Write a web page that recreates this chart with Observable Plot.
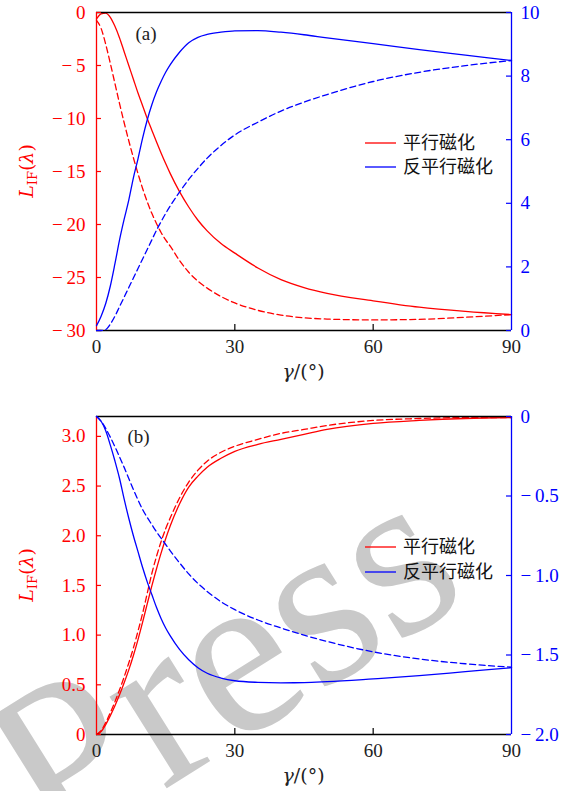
<!DOCTYPE html>
<html><head><meta charset="utf-8">
<script src="https://cdn.jsdelivr.net/npm/d3@7"></script>
<script src="https://cdn.jsdelivr.net/npm/@observablehq/plot@0.6"></script>
<style>
html,body{margin:0;padding:0;background:#fff;}
#wrap{position:relative;width:579px;height:791px;overflow:hidden;background:#fff;}
#wrap svg{position:absolute;left:0;}
</style></head><body><div id="wrap"></div>
<script>
// ---------- data ----------
const gamma = [0,1,2,3,4,5,6,7,8,9,10,11,12,13,14,15,16,18,20,22,24,27,30,35,40,45,50,60,70,80,90];
// panel (a): left axis L_IF (red), right axis (blue)
const aParallelSolid   = [-0.6,-0.12,-0.05,-0.45,-1.3,-2.4,-3.7,-5.0,-6.3,-7.6,-8.8,-10.0,-11.1,-12.2,-13.25,-14.25,-15.2,-16.9,-18.35,-19.6,-20.6,-21.8,-22.7,-24.1,-25.2,-25.95,-26.5,-27.2,-27.8,-28.2,-28.5];
const aParallelDashed  = [-0.75,-1.5,-3.0,-4.8,-6.7,-8.6,-10.4,-12.1,-13.7,-15.2,-16.6,-17.85,-18.95,-19.9,-20.75,-21.45,-22.05,-23.4,-24.5,-25.35,-26.0,-26.8,-27.4,-28.1,-28.55,-28.8,-28.92,-29.0,-28.95,-28.75,-28.5];
const aAntiSolid       = [0.15,0.45,0.85,1.4,2.1,2.85,3.5,4.1,4.8,5.4,6.05,6.62,7.1,7.5,7.83,8.12,8.36,8.75,9.05,9.22,9.31,9.38,9.42,9.43,9.38,9.3,9.2,9.02,8.83,8.66,8.49];
const aAntiDashed      = [0,0,0.03,0.2,0.45,0.75,1.05,1.35,1.65,1.95,2.25,2.55,2.85,3.15,3.42,3.68,3.92,4.35,4.75,5.1,5.42,5.82,6.15,6.55,6.9,7.18,7.42,7.83,8.12,8.33,8.49];
// panel (b)
const bParallelSolid   = [0,0.03,0.1,0.19,0.29,0.4,0.52,0.65,0.795,0.955,1.13,1.315,1.495,1.665,1.825,1.97,2.1,2.32,2.49,2.6,2.69,2.78,2.85,2.92,2.97,3.02,3.07,3.13,3.16,3.18,3.19];
const bParallelDashed  = [0,0.04,0.12,0.22,0.33,0.45,0.58,0.72,0.87,1.04,1.22,1.42,1.62,1.79,1.94,2.07,2.18,2.38,2.54,2.66,2.75,2.84,2.9,2.97,3.03,3.07,3.11,3.16,3.18,3.19,3.19];
const bAntiSolid       = [0,-0.03,-0.09,-0.18,-0.28,-0.39,-0.52,-0.64,-0.75,-0.85,-0.95,-1.04,-1.12,-1.2,-1.27,-1.33,-1.38,-1.465,-1.53,-1.58,-1.615,-1.645,-1.662,-1.672,-1.675,-1.674,-1.668,-1.65,-1.63,-1.605,-1.58];
const bAntiDashed      = [0,-0.03,-0.075,-0.13,-0.19,-0.255,-0.32,-0.39,-0.46,-0.525,-0.585,-0.635,-0.68,-0.725,-0.765,-0.805,-0.845,-0.92,-0.99,-1.05,-1.1,-1.165,-1.215,-1.28,-1.33,-1.375,-1.415,-1.48,-1.525,-1.555,-1.577];
// ticks
const xTicks = [0,30,60,90];
const aLeftTicks = [0,-5,-10,-15,-20,-25,-30];
const aRightTicks = [0,2,4,6,8,10];
const bLeftTicks = [0,0.5,1.0,1.5,2.0,2.5,3.0];
const bRightTicks = [0,-0.5,-1.0,-1.5,-2.0];
const legendLabels = ["平行磁化","反平行磁化"];
const panelTags = ["(a)","(b)"];

// ---------- drawing ----------
const SERIF = "'Liberation Serif','DejaVu Serif',serif";
const TSERIF = "'DejaVu Serif','Liberation Serif',serif";
const CJK = "'Noto Sans CJK SC','Noto Sans CJK JP',sans-serif";
const RED = "#ff0000", BLUE = "#0000ff";
const W = 579, mL = 96, mR = 68, plotW = W - mL - mR;
const rows = arr => gamma.map((g, i) => ({g, v: arr[i]}));
const wrap = d3.select("#wrap");

const minus = "\u2212\u2009";
const fmtA = d => d < 0 ? minus + (-d) : String(d);
const fmtBL = d => d === 0 ? "0" : d.toFixed(1);
const fmtBR = d => d === 0 ? "0" : minus + (-d).toFixed(1);

// watermark (behind)
const wm = wrap.append("svg").attr("width", W).attr("height", 791).style("top","0px");
wm.append("text").attr("transform","translate(52,860) rotate(-32)")
  .attr("font-family", SERIF).attr("font-size", 235).attr("fill", "#c9c9c9").text("Press");

function panel(cfg) {
  const plotH = cfg.height - cfg.mTop - cfg.mBottom;
  const common = {
    width: W, height: cfg.height, marginTop: cfg.mTop, marginBottom: cfg.mBottom, marginLeft: mL, marginRight: mR,
    style: {background: "transparent", fontFamily: SERIF, fontSize: "19px", color: "black", overflow: "visible"}
  };
  const left = Plot.plot({
    ...common,
    x: {domain: [0, 90]},
    y: {domain: cfg.leftDomain},
    marks: [
      Plot.line(rows(cfg.redSolid), {x: "g", y: "v", stroke: RED, strokeWidth: 1.3, curve: "monotone-x"}),
      Plot.line(rows(cfg.redDashed), {x: "g", y: "v", stroke: RED, strokeWidth: 1.3, strokeDasharray: "6,3.5", curve: "monotone-x"}),
      Plot.ruleY([cfg.leftDomain[0], cfg.leftDomain[1]], {stroke: "black", strokeWidth: 1.3}),
      Plot.ruleX([0], {stroke: RED, strokeWidth: 1.3}),
      Plot.tickY(cfg.leftTicks, {y: d => d, stroke: RED, strokeWidth: 1.2, insetRight: plotW - 5}),
      Plot.tickX(xTicks.slice(1, -1), {x: d => d, stroke: "black", strokeWidth: 1.2, insetTop: plotH - 6}),
      Plot.axisY({ticks: cfg.leftTicks, tickSize: 0, tickPadding: 11, tickFormat: cfg.leftFmt, color: RED, label: null}),
      Plot.axisX({ticks: xTicks, tickSize: 0, tickPadding: 9, label: null, color: "#222"}),
      Plot.text([cfg.tag], {frameAnchor: "top-left", textAnchor: "start", lineAnchor: "middle", dx: cfg.tagDx, dy: cfg.tagDy, fontSize: 19, fill: "#222"})
    ]
  });
  const right = Plot.plot({
    ...common,
    x: {domain: [0, 90], axis: null},
    y: {domain: cfg.rightDomain},
    marks: [
      Plot.line(rows(cfg.blueSolid), {x: "g", y: "v", stroke: BLUE, strokeWidth: 1.3, curve: "monotone-x"}),
      Plot.line(rows(cfg.blueDashed), {x: "g", y: "v", stroke: BLUE, strokeWidth: 1.3, strokeDasharray: "6,3.5", curve: "monotone-x"}),
      Plot.ruleX([90], {stroke: BLUE, strokeWidth: 1.3}),
      Plot.tickY(cfg.rightTicks, {y: d => d, stroke: BLUE, strokeWidth: 1.2, insetLeft: plotW - 5}),
      Plot.axisY({anchor: "right", ticks: cfg.rightTicks, tickSize: 0, tickPadding: 9, tickFormat: cfg.rightFmt, color: BLUE, label: null})
    ]
  });
  d3.select(left).style("top", cfg.top + "px");
  d3.select(right).style("top", cfg.top + "px");
  wrap.node().appendChild(left);
  wrap.node().appendChild(right);

  const L = d3.select(left);
  // y title
  const yt = L.append("text").attr("transform", `translate(33,${cfg.mTop + plotH / 2}) rotate(-90)`)
    .attr("text-anchor", "middle").attr("font-family", TSERIF).attr("font-size", 19).attr("fill", RED);
  yt.append("tspan").attr("font-style", "italic").text("L");
  yt.append("tspan").attr("font-size", 13).attr("dy", 4).text("IF");
  yt.append("tspan").attr("dy", -4).text("(");
  yt.append("tspan").attr("font-style", "italic").text("λ");
  yt.append("tspan").text(")");
  // x title
  const xt = L.append("text").attr("x", mL + plotW / 2).attr("y", cfg.mTop + plotH + 48)
    .attr("text-anchor", "middle").attr("font-family", TSERIF).attr("font-size", 19).attr("fill", "#222");
  xt.append("tspan").attr("font-style", "italic").text("γ");
  xt.append("tspan").text("/(°)");

  // legend
  const R = d3.select(right);
  legendLabels.forEach((lab, i) => {
    const y = cfg.legendY + i * cfg.legendGap;
    R.append("line").attr("x1", 365).attr("x2", 396).attr("y1", y).attr("y2", y)
      .attr("stroke", i === 0 ? RED : BLUE).attr("stroke-width", 1.3);
    R.append("text").attr("x", 403).attr("y", y).attr("dy", "0.36em").attr("text-anchor", "start")
      .attr("font-family", CJK).attr("font-size", 18).attr("fill", "#111").text(lab);
  });
}

panel({top: 0, height: 390, mTop: 12, mBottom: 60, leftDomain: [-30, 0], rightDomain: [0, 10],
  leftTicks: aLeftTicks, rightTicks: aRightTicks, leftFmt: fmtA, rightFmt: fmtA,
  redSolid: aParallelSolid, redDashed: aParallelDashed, blueSolid: aAntiSolid, blueDashed: aAntiDashed,
  tag: panelTags[0], tagDx: 39, tagDy: 21, legendY: 143, legendGap: 24});
panel({top: 400, height: 391, mTop: 16, mBottom: 57, leftDomain: [0, 3.2], rightDomain: [-2, 0],
  leftTicks: bLeftTicks, rightTicks: bRightTicks, leftFmt: fmtBL, rightFmt: fmtBR,
  redSolid: bParallelSolid, redDashed: bParallelDashed, blueSolid: bAntiSolid, blueDashed: bAntiDashed,
  tag: panelTags[1], tagDx: 31, tagDy: 20, legendY: 147, legendGap: 25});
</script></body></html>
